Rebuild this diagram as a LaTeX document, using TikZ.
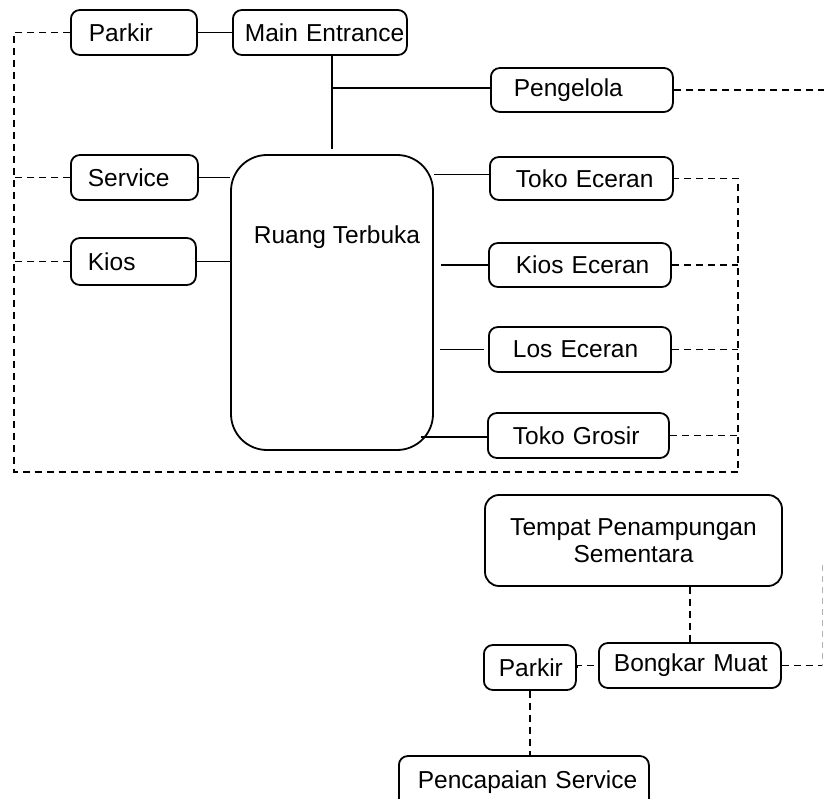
\documentclass[tikz,border=0pt]{standalone}
\usepackage{fontspec}
\setmainfont{Liberation Sans}
\usetikzlibrary{calc}
\hbadness=10000 \hfuzz=100pt
\begin{document}
\begin{tikzpicture}[x=1pt,y=-1pt,
  every node/.style={font=\fontsize{24.5}{27}\selectfont},
  boxnode/.style={draw, line width=1.8pt, rounded corners=9pt, inner xsep=0pt, inner ysep=0pt, align=left, anchor=west},
  bigbox/.style={draw, line width=1.8pt, rounded corners=36pt, inner sep=0pt},
  solidline/.style={line width=1.7pt},
  dashline/.style={line width=1.6pt, dash pattern=on 7pt off 5pt},
  faintline/.style={line width=1pt, gray!60, dash pattern=on 6pt off 5pt}]
\useasboundingbox (0,0) rectangle (824,799);

% top left boxes
\node[boxnode, text width=126pt, minimum height=45pt] (parkirA) at (70,32.5) {\hspace*{18pt}\mbox{Parkir}};
\node[boxnode, text width=174pt, minimum height=45pt] (main) at (232,32.5) {\hspace*{12pt}\mbox{Main Entrance}};
\node[boxnode, text width=127pt, minimum height=45pt] (service) at (70,177.5) {\hspace*{17pt}\mbox{Service}};
\node[boxnode, text width=125pt, minimum height=47pt] (kios) at (70,261.5) {\hspace*{17pt}\mbox{Kios}};

% central box
\node[bigbox, minimum width=202pt, minimum height=295pt] (ruang) at (332,302.5) {};
\node (ruangtxt) at (337,237) {Ruang Terbuka};

% right boxes
\node[boxnode, text width=182pt, minimum height=44pt] (peng) at (490,90) {\hspace*{23pt}\mbox{Pengelola}};
\node[boxnode, text width=183pt, minimum height=43pt] (tokoe) at (489,178.5) {\hspace*{26pt}\mbox{Toko Eceran}};
\node[boxnode, text width=182pt, minimum height=44pt] (kiose) at (488,265) {\hspace*{27pt}\mbox{Kios Eceran}};
\node[boxnode, text width=182pt, minimum height=45pt] (lose) at (488,349.5) {\hspace*{24pt}\mbox{Los Eceran}};
\node[boxnode, text width=181pt, minimum height=45pt] (grosir) at (487,435.5) {\hspace*{25pt}\mbox{Toko Grosir}};

% lower group
\node[draw, line width=1.8pt, rounded corners=14pt, minimum width=297pt, minimum height=91pt, align=center, inner sep=0pt] (tempat) at (633.5,540.5) {Tempat Penampungan\\Sementara};
\node[boxnode, text width=182pt, minimum height=45pt] (bongkar) at (598,665.5) {\hspace*{15pt}\mbox{Bongkar Muat}};
\node[boxnode, text width=92pt, minimum height=45pt] (parkirB) at (483,667.5) {\hspace*{15pt}\mbox{Parkir}};
\node[boxnode, text width=250pt, minimum height=52pt] (penc) at (398,782) {\hspace*{19pt}\mbox{Pencapaian Service}};

% coordinates for the dashed frame
\coordinate (lt) at (14,32.5);
\coordinate (lb) at (14,472);
\coordinate (rb) at (738,472);
\coordinate (pr) at (824,90);
\coordinate (br) at (822,665.5);
\coordinate (brtop) at (822,565);

% solid connectors
\draw[solidline] (parkirA.east) -- (main.west);
\draw[solidline] (ruang.north |- main.south) -- ($(ruang.north)+(0,-5)$);
\draw[solidline] ($(ruang.north |- peng.west)+(0,-2)$) -- ($(peng.west)+(0,-2)$);
\draw[solidline] (service.east) -- (service.east -| ruang.west);
\draw[solidline] (kios.east) -- (kios.east -| ruang.west);
\draw[solidline] ($(tokoe.west -| ruang.east)+(0,-4)$) -- ($(tokoe.west)+(0,-4)$);
\draw[solidline] ($(kiose.west -| ruang.east)+(7,0)$) -- (kiose.west);
\draw[solidline] ($(lose.west -| ruang.east)+(6,0)$) -- ($(lose.west)+(-4,0)$);
\draw[solidline] ($(grosir.west -| ruang.east)+(-13,1.5)$) -- ($(grosir.west)+(0,1.5)$);

% dashed connectors
\draw[dashline] (parkirA.west) -- (lt) -- (lb) -- (rb) -- (rb |- tokoe.east) -- (tokoe.east);
\draw[dashline] (service.west) -- (service.west -| lt);
\draw[dashline] (kios.west) -- (kios.west -| lt);
\draw[dashline] (kiose.east) -- (kiose.east -| rb);
\draw[dashline] (lose.east) -- (lose.east -| rb);
\draw[dashline] (grosir.east) -- (grosir.east -| rb);
\draw[dashline] (peng.east) -- (pr);
\draw[dashline] (bongkar.north |- tempat.south) -- (bongkar.north);
\draw[dashline] (parkirB.east) -- (parkirB.east |- bongkar.west) -- (bongkar.west);
\draw[dashline] (parkirB.south) -- (parkirB.south |- penc.north);
\draw[dashline] (bongkar.east) -- (br);
\draw[faintline] (brtop) -- (br);
\end{tikzpicture}
\end{document}
